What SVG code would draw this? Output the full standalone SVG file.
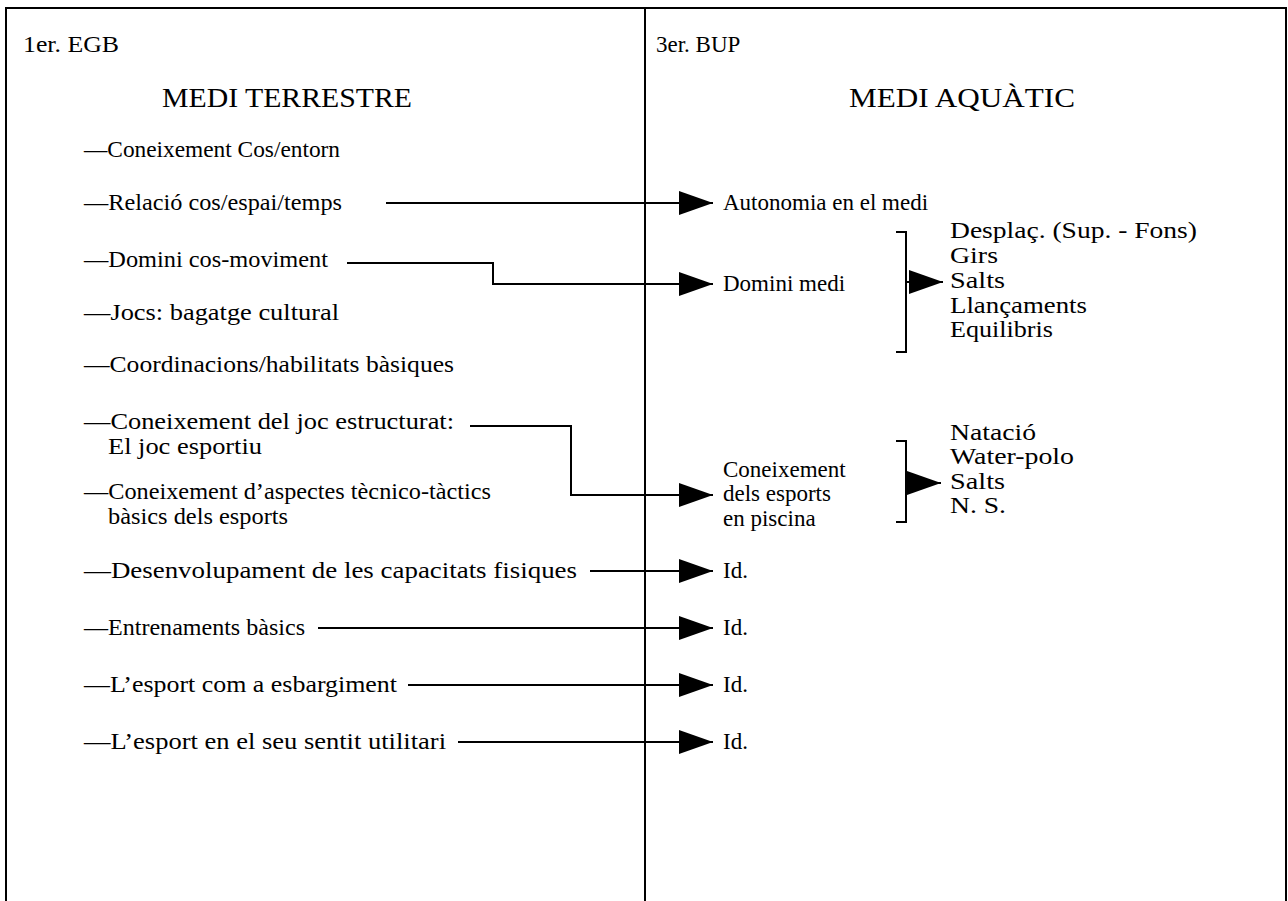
<svg xmlns="http://www.w3.org/2000/svg" width="1288" height="901" viewBox="0 0 1288 901">
<style>
text{font-family:"Liberation Serif","Times New Roman",serif;font-size:24px;fill:#000}
.r{font-size:23px}
.t{font-size:27px}
.ln{stroke:#000;stroke-width:2;fill:none}
</style>
<defs>
<marker id="ah" markerUnits="userSpaceOnUse" markerWidth="34" markerHeight="24" viewBox="0 0 34 24" refX="34" refY="12" orient="auto">
<path d="M0,0 L34,12 L0,24 z" fill="#000"/>
</marker>
</defs>
<rect width="1288" height="901" fill="#fff"/>
<g id="frame" class="ln">
<path d="M6 901 V8 H1286 V901"/>
<path d="M645 8 V901"/>
</g>
<g id="left-header">
<text x="23" y="52" textLength="96" lengthAdjust="spacingAndGlyphs">1er. EGB</text>
<text class="t" x="287" y="107" text-anchor="middle" textLength="250" lengthAdjust="spacingAndGlyphs">MEDI TERRESTRE</text>
</g>
<g id="right-header">
<text class="r" x="656" y="52">3er. BUP</text>
<text class="t" x="962" y="107" text-anchor="middle" textLength="226" lengthAdjust="spacingAndGlyphs">MEDI AQUÀTIC</text>
</g>
<g id="n1"><text x="84" y="157" textLength="256" lengthAdjust="spacingAndGlyphs">—Coneixement Cos/entorn</text></g>
<g id="n2"><text x="84" y="210" textLength="258" lengthAdjust="spacingAndGlyphs">—Relació cos/espai/temps</text></g>
<g id="n3"><text x="84" y="267" textLength="244" lengthAdjust="spacingAndGlyphs">—Domini cos-moviment</text></g>
<g id="n4"><text x="84" y="320" textLength="255" lengthAdjust="spacingAndGlyphs">—Jocs: bagatge cultural</text></g>
<g id="n5"><text x="84" y="372" textLength="370" lengthAdjust="spacingAndGlyphs">—Coordinacions/habilitats bàsiques</text></g>
<g id="n6"><text x="84" y="429" textLength="370" lengthAdjust="spacingAndGlyphs">—Coneixement del joc estructurat:</text><text x="108" y="454" textLength="154" lengthAdjust="spacingAndGlyphs">El joc esportiu</text></g>
<g id="n7"><text x="84" y="499" textLength="407" lengthAdjust="spacingAndGlyphs">—Coneixement d’aspectes tècnico-tàctics</text><text x="108" y="524" textLength="180" lengthAdjust="spacingAndGlyphs">bàsics dels esports</text></g>
<g id="n8"><text x="84" y="578" textLength="493" lengthAdjust="spacingAndGlyphs">—Desenvolupament de les capacitats fisiques</text></g>
<g id="n9"><text x="84" y="635" textLength="221" lengthAdjust="spacingAndGlyphs">—Entrenaments bàsics</text></g>
<g id="n10"><text x="84" y="692" textLength="313" lengthAdjust="spacingAndGlyphs">—L’esport com a esbargiment</text></g>
<g id="n11"><text x="84" y="749" textLength="362" lengthAdjust="spacingAndGlyphs">—L’esport en el seu sentit utilitari</text></g>
<g id="r1"><text class="r" x="723" y="210">Autonomia en el medi</text></g>
<g id="r2"><text class="r" x="723" y="291">Domini medi</text></g>
<g id="r3"><text class="r" x="723" y="477">Coneixement</text><text class="r" x="723" y="501">dels esports</text><text class="r" x="723" y="526">en piscina</text></g>
<g id="r4"><text class="r" x="723" y="578">Id.</text></g>
<g id="r5"><text class="r" x="723" y="635">Id.</text></g>
<g id="r6"><text class="r" x="723" y="692">Id.</text></g>
<g id="r7"><text class="r" x="723" y="749">Id.</text></g>
<g id="list1">
<text class="r" x="950" y="238" textLength="247" lengthAdjust="spacingAndGlyphs">Desplaç. (Sup. - Fons)</text>
<text class="r" x="950" y="263" textLength="48" lengthAdjust="spacingAndGlyphs">Girs</text>
<text class="r" x="950" y="288" textLength="55" lengthAdjust="spacingAndGlyphs">Salts</text>
<text class="r" x="950" y="313" textLength="137" lengthAdjust="spacingAndGlyphs">Llançaments</text>
<text class="r" x="950" y="337" textLength="103" lengthAdjust="spacingAndGlyphs">Equilibris</text>
</g>
<g id="list2">
<text class="r" x="950" y="440" textLength="86" lengthAdjust="spacingAndGlyphs">Natació</text>
<text class="r" x="950" y="464" textLength="124" lengthAdjust="spacingAndGlyphs">Water-polo</text>
<text class="r" x="950" y="489" textLength="55" lengthAdjust="spacingAndGlyphs">Salts</text>
<text class="r" x="950" y="513" textLength="56" lengthAdjust="spacingAndGlyphs">N. S.</text>
</g>
<g id="connectors" class="ln">
<path d="M386 203 H713" marker-end="url(#ah)"/>
<path d="M347 263 H493 V284 H713" marker-end="url(#ah)"/>
<path d="M470 426 H571 V495 H713" marker-end="url(#ah)"/>
<path d="M590 571 H713" marker-end="url(#ah)"/>
<path d="M318 628 H713" marker-end="url(#ah)"/>
<path d="M408 685 H713" marker-end="url(#ah)"/>
<path d="M458 742 H713" marker-end="url(#ah)"/>
<path d="M896 232 H906 V352 H896"/>
<path d="M896 441 H906 V522 H896"/>
<path d="M907 282 H943" marker-end="url(#ah)"/>
<path d="M907 483 H941" marker-end="url(#ah)"/>
</g>
</svg>
